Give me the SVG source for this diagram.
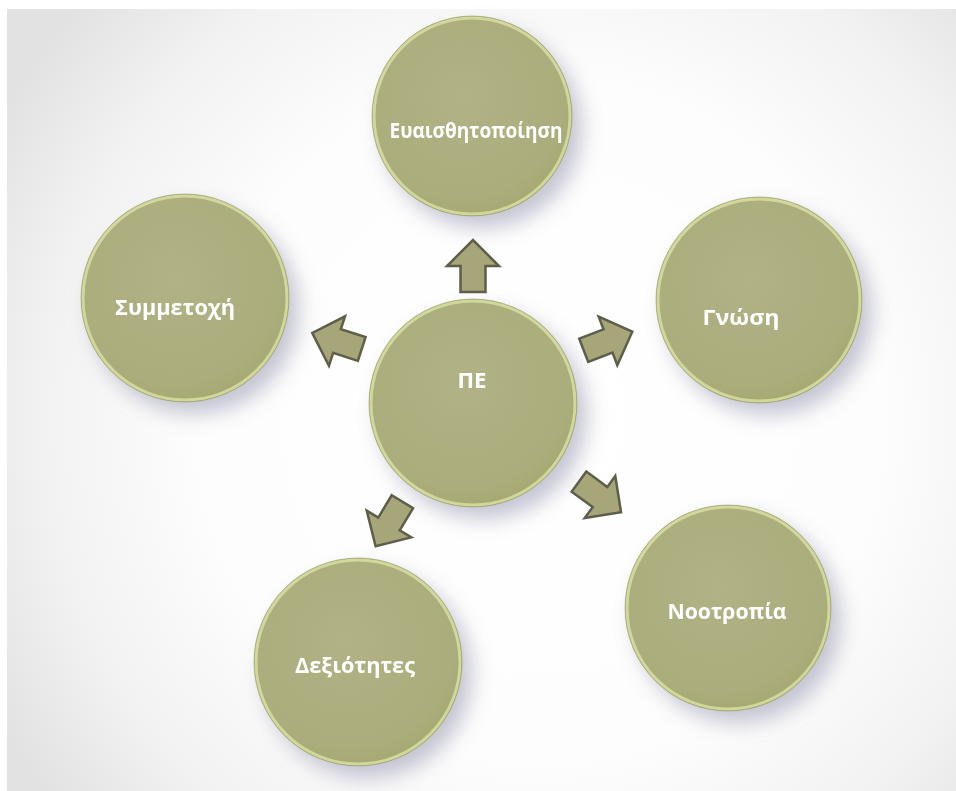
<svg xmlns="http://www.w3.org/2000/svg" width="956" height="791" viewBox="0 0 956 791">
  <defs>
    <radialGradient id="bg" cx="540" cy="420" r="620" gradientUnits="userSpaceOnUse">
      <stop offset="0" stop-color="#ffffff"/>
      <stop offset="0.55" stop-color="#fdfdfd"/>
      <stop offset="0.8" stop-color="#f2f2f2"/>
      <stop offset="1" stop-color="#e2e2e2"/>
    </radialGradient>
    <radialGradient id="disc" cx="0.45" cy="0.4" r="0.6">
      <stop offset="0" stop-color="#b1b286"/>
      <stop offset="0.85" stop-color="#abad7c"/>
      <stop offset="1" stop-color="#a6a973"/>
    </radialGradient>
    <filter id="shadow" x="-30%" y="-30%" width="170%" height="170%">
      <feGaussianBlur in="SourceAlpha" stdDeviation="10"/>
      <feOffset dx="10" dy="12" result="b"/>
      <feFlood flood-color="#8e8eaa" flood-opacity="0.5"/>
      <feComposite in2="b" operator="in" result="s"/>
      <feMerge>
        <feMergeNode in="s"/>
        <feMergeNode in="SourceGraphic"/>
      </feMerge>
    </filter>
    <path id="arrow" d="M -26 -12.5 L 0 -12.5 L 0 -26 L 26 0 L 0 26 L 0 12.5 L -26 12.5 Z"/>
    <style>
      .node circle.body { fill: url(#disc); }
      .node circle.rim { fill: none; stroke: #d8dfa0; stroke-width: 3; opacity: 0.85; }
      .node circle.edge { fill: none; stroke: #9a9d68; stroke-width: 1; opacity: 0.6; }
      .node text { font-family: "Open Sans", "Noto Sans", "DejaVu Sans", sans-serif; font-weight: 700; font-size: 22px; fill: #ffffff; text-anchor: middle; }
      .conn use { fill: #a6a679; stroke: #5e5e4a; stroke-width: 2.5; stroke-linejoin: miter; }
    </style>
  </defs>

  <rect x="0" y="0" width="956" height="791" fill="#ffffff"/>
  <rect x="7" y="9" width="949" height="782" fill="url(#bg)"/>

  <g id="node-eva" class="node" filter="url(#shadow)">
    <circle class="body" cx="472" cy="116" r="100"/>
    <circle class="rim" cx="472" cy="116" r="98"/>
    <circle class="edge" cx="472" cy="116" r="100"/>
    <text x="476" y="138" font-size="21" textLength="173" lengthAdjust="spacingAndGlyphs">Ευαισθητοποίηση</text>
  </g>

  <g id="node-sym" class="node" filter="url(#shadow)">
    <circle class="body" cx="185" cy="298" r="104"/>
    <circle class="rim" cx="185" cy="298" r="102"/>
    <circle class="edge" cx="185" cy="298" r="104"/>
    <text x="175" y="315" textLength="120" lengthAdjust="spacingAndGlyphs">Συμμετοχή</text>
  </g>

  <g id="node-gno" class="node" filter="url(#shadow)">
    <circle class="body" cx="759" cy="300" r="103"/>
    <circle class="rim" cx="759" cy="300" r="101"/>
    <circle class="edge" cx="759" cy="300" r="103"/>
    <text x="741" y="325" textLength="77" lengthAdjust="spacingAndGlyphs">Γνώση</text>
  </g>

  <g id="node-pe" class="node" filter="url(#shadow)">
    <circle class="body" cx="473" cy="403" r="104"/>
    <circle class="rim" cx="473" cy="403" r="102"/>
    <circle class="edge" cx="473" cy="403" r="104"/>
    <text x="472" y="388" textLength="29" lengthAdjust="spacingAndGlyphs">ΠΕ</text>
  </g>

  <g id="node-nootropia" class="node" filter="url(#shadow)">
    <circle class="body" cx="728" cy="608" r="103"/>
    <circle class="rim" cx="728" cy="608" r="101"/>
    <circle class="edge" cx="728" cy="608" r="103"/>
    <text x="727" y="619" textLength="119" lengthAdjust="spacingAndGlyphs">Νοοτροπία</text>
  </g>

  <g id="node-dex" class="node" filter="url(#shadow)">
    <circle class="body" cx="358" cy="662" r="104"/>
    <circle class="rim" cx="358" cy="662" r="102"/>
    <circle class="edge" cx="358" cy="662" r="104"/>
    <text x="355" y="673" textLength="120" lengthAdjust="spacingAndGlyphs">Δεξιότητες</text>
  </g>

  <g id="connectors" class="conn">
    <use href="#arrow" transform="translate(473 266) rotate(-90)"/>
    <use href="#arrow" transform="translate(608 341) rotate(-21)"/>
    <use href="#arrow" transform="translate(337 341) rotate(198)"/>
    <use href="#arrow" transform="translate(389 524) rotate(121)"/>
    <use href="#arrow" transform="translate(600 497) rotate(36)"/>
  </g>
</svg>
